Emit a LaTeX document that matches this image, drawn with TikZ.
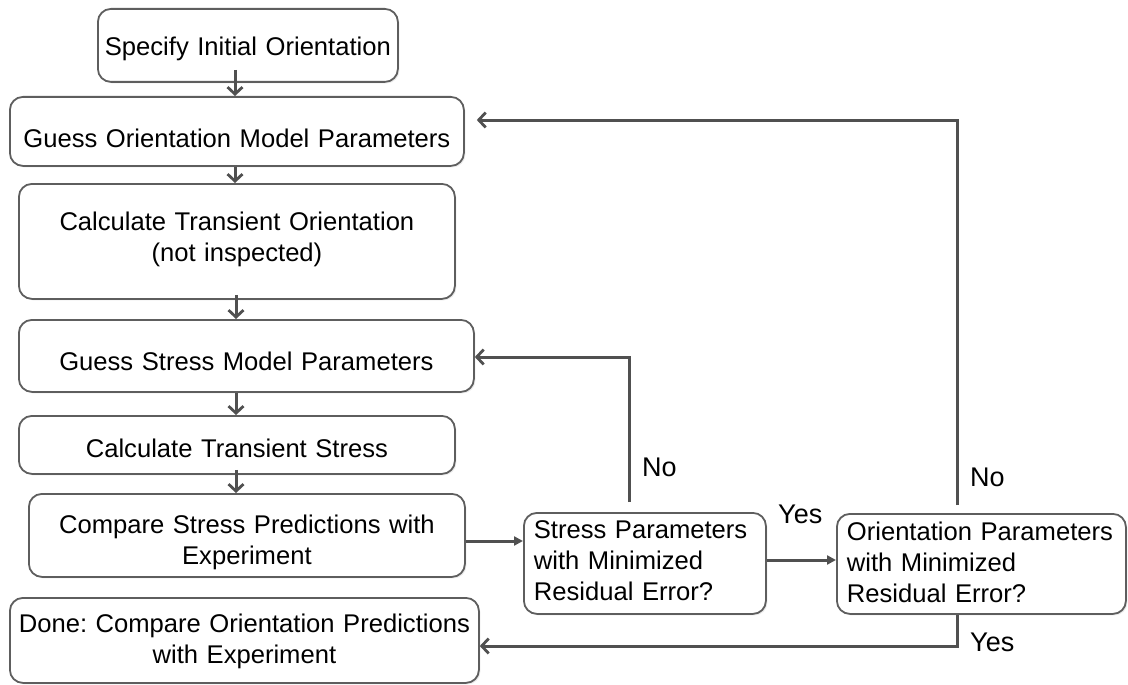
\documentclass[tikz,border=0pt]{standalone}
\usepackage{fontspec}
\setmainfont{Liberation Sans}
\usetikzlibrary{arrows.meta,shadows,calc}
\definecolor{edgecol}{HTML}{505050}
\definecolor{framecol}{HTML}{5E5E5E}
\frenchspacing
\begin{document}
\begin{tikzpicture}[x=1pt,y=-1pt,
  box/.style={draw=framecol, line width=1.8pt, rounded corners=13pt, fill=white,
    inner ysep=0pt, inner xsep=0pt, anchor=north west, align=center,
    font=\fontsize{25.6}{31}\selectfont\frenchspacing,
    drop shadow={shadow xshift=1.5pt,shadow yshift=-1.5pt,opacity=0.18}},
  arr/.style={draw=edgecol, line width=3pt, line join=miter,
    -{Straight Barb[length=7pt,width=15pt,line width=2.8pt]}},
  tri/.style={draw=edgecol, line width=3pt, -{Triangle[length=9pt,width=9pt]}},
  lbl/.style={inner sep=0pt, anchor=base west, font=\fontsize{27}{32}\selectfont}]
\useasboundingbox (0,0) rectangle (1128,685);

% boxes
\node[box, text width=300pt, text height=47pt, text depth=26pt] (b1) at (97,8) {Specify Initial Orientation};
\node[box, text width=454pt, text height=51pt, text depth=18pt] (b2) at (9,96) {Guess Orientation Model Parameters};
\node[box, text width=436pt, text height=47pt, text depth=68pt] (b3) at (18,183) {Calculate Transient Orientation\\(not inspected)};
\node[box, text width=455pt, text height=51pt, text depth=21pt] (b4) at (18,319) {Guess Stress Model Parameters};
\node[box, text width=436pt, text height=42pt, text depth=16pt] (b5) at (18,415) {Calculate Transient Stress};
\node[box, text width=436pt, text height=40pt, text depth=43pt] (b6) at (28,493) {Compare Stress Predictions with\\Experiment};
\node[box, text width=469pt, text height=35pt, text depth=50pt] (b7) at (9,597) {Done: Compare Orientation Predictions\\with Experiment};
\node[box, align=left, inner xsep=10pt, text width=222pt, text height=26pt, text depth=75pt] (b8) at (523,512) {Stress Parameters\\with Minimized\\Residual Error?};
\node[box, align=left, inner xsep=10pt, text width=269pt, text height=27pt, text depth=73pt] (b9) at (836,513) {Orientation Parameters\\with Minimized\\Residual Error?};

% helper coordinates
\coordinate (ax) at (235,0);
\coordinate (bx) at (236,0);
\coordinate (n1) at (629,357);
\coordinate (n2) at (957,120);
\coordinate (y2) at (957,646);
\coordinate (h1) at (0,541);
\coordinate (h2) at (0,560);

% vertical flow
\draw[arr] ($(b1.south -| ax)+(0,-13)$) -- (b2.north -| ax);
\draw[arr] (b2.south -| ax) -- (b3.north -| ax);
\draw[arr] ($(b3.south -| bx)+(0,-5)$) -- (b4.north -| bx);
\draw[arr] (b4.south -| bx) -- (b5.north -| bx);
\draw[arr] ($(b5.south -| bx)+(0,-5)$) -- (b6.north -| bx);

% decisions
\draw[tri] (b6.east |- h1) -- (b8.west |- h1);
\draw[tri] (b8.east |- h2) -- (b9.west |- h2);
\draw[arr] ($(b8.north -| n1)+(0,-10)$) -- (n1) -- (b4.east |- n1);
\draw[arr] ($(b9.north -| n2)+(0,-8)$) -- (n2) -- ($(b2.east |- n2)+(12,0)$);
\draw[arr] (b9.south -| y2) -- (y2) -- (b7.east |- y2);

% labels
\node[lbl] (no1) at (642,476) {No};
\node[lbl] (no2) at (970,486) {No};
\node[lbl] (yes1) at (778,523) {Yes};
\node[lbl] (yes2) at (970,651) {Yes};
\end{tikzpicture}
\end{document}
